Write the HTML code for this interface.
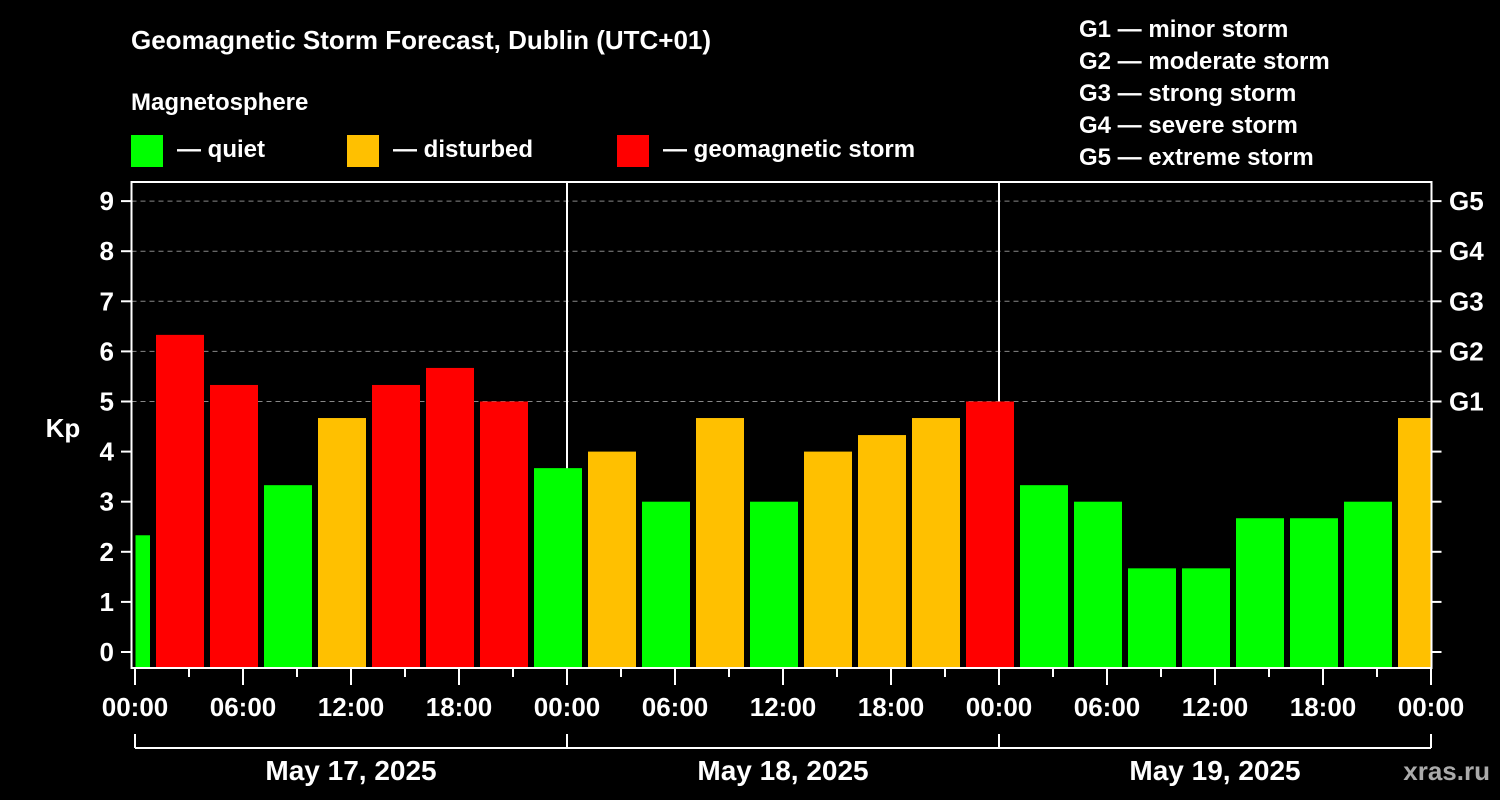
<!DOCTYPE html>
<html><head><meta charset="utf-8"><style>
body{margin:0;background:#000;}
svg{display:block;font-family:"Liberation Sans",Arial,sans-serif;font-weight:bold;}
</style></head><body>
<svg id="chart" width="1500" height="800" viewBox="0 0 1500 800">
<rect width="1500" height="800" fill="#000"/>
<text x="131" y="49" fill="#fff" font-size="26">Geomagnetic Storm Forecast, Dublin (UTC+01)</text>
<text x="131" y="110" fill="#fff" font-size="24">Magnetosphere</text>
<g><rect x="131" y="135" width="32" height="32" fill="#00ff00"/><text x="177" y="157" fill="#fff" font-size="24">— quiet</text></g>
<g><rect x="347" y="135" width="32" height="32" fill="#ffc000"/><text x="393" y="157" fill="#fff" font-size="24">— disturbed</text></g>
<g><rect x="617" y="135" width="32" height="32" fill="#ff0000"/><text x="663" y="157" fill="#fff" font-size="24">— geomagnetic storm</text></g>
<g fill="#fff" font-size="24">
<text x="1079" y="37">G1 — minor storm</text>
<text x="1079" y="69">G2 — moderate storm</text>
<text x="1079" y="101">G3 — strong storm</text>
<text x="1079" y="133">G4 — severe storm</text>
<text x="1079" y="165">G5 — extreme storm</text>
</g>
<g id="grid"></g>
<g id="bars"></g>
<g id="axes"></g>
<text x="63" y="437" fill="#fff" font-size="26" text-anchor="middle">Kp</text>
<text x="1490" y="780" fill="#aaa" font-size="26" text-anchor="end">xras.ru</text>
</svg>
<script>
const kpValues=[2.33,6.33,5.33,3.33,4.67,5.33,5.67,5.0,3.67,4.0,3.0,4.67,3.0,4.0,4.33,4.67,5.0,3.33,3.0,1.67,1.67,2.67,2.67,3.0,4.67];
const yTicks=[0,1,2,3,4,5,6,7,8,9];
const gLabels=["G1","G2","G3","G4","G5"];
const xTickLabels=["00:00","06:00","12:00","18:00","00:00","06:00","12:00","18:00","00:00","06:00","12:00","18:00","00:00"];
const dayLabels=["May 17, 2025","May 18, 2025","May 19, 2025"];
const NS="http://www.w3.org/2000/svg";
const L=131.5,R=1431.5,T=182,B=668,X0=135,PXH=18;
const y=v=>652-v*50.1;
const xh=h=>X0+h*PXH; // hours from May 17 00:00 local
function mk(tag,attrs,parent){const e=document.createElementNS(NS,tag);for(const k in attrs)e.setAttribute(k,attrs[k]);parent.appendChild(e);return e;}
const grid=document.getElementById('grid'),bars=document.getElementById('bars'),axes=document.getElementById('axes');
for(let v=5;v<=9;v++){
 const l=mk('line',{x1:L,x2:R,y1:y(v),y2:y(v),stroke:'#888','stroke-dasharray':'5,4','stroke-width':1},grid);
 
 
}
// day separators
[1,2].forEach(d=>{const l=mk('line',{x1:xh(24*d),x2:xh(24*d),y1:T,y2:B,stroke:'#fff','stroke-width':2},grid);
 
 });
kpValues.forEach((v,i)=>{
 const c=xh(-0.5+3*i);
 let x1=Math.max(c-24,L+4),x2=Math.min(c+24,R-1);
 const col=v>=5?'#ff0000':(v>=4?'#ffc000':'#00ff00');
 const r=mk('rect',{x:x1,y:y(v),width:x2-x1,height:B-y(v),fill:col},bars);
 
 
});
const frame=mk('rect',{x:L,y:T,width:R-L,height:B-T,fill:'none',stroke:'#fff','stroke-width':2},axes);


yTicks.forEach(v=>{
 mk('line',{x1:121,x2:L,y1:y(v),y2:y(v),stroke:'#fff','stroke-width':2},axes);
 mk('line',{x1:R,x2:R+10,y1:y(v),y2:y(v),stroke:'#fff','stroke-width':2},axes);
 const t=mk('text',{x:114,y:y(v)+9,fill:'#fff','font-size':26,'text-anchor':'end'},axes);
 t.textContent=v;
 
 
});
gLabels.forEach((g,i)=>{
 const t=mk('text',{x:1449,y:y(5+i)+9,fill:'#fff','font-size':26},axes);
 t.textContent=g;
 
 
});
for(let h=0;h<=72;h+=3){
 mk('line',{x1:xh(h),x2:xh(h),y1:B,y2:h%6==0?685:677,stroke:'#fff','stroke-width':2},axes);
}
xTickLabels.forEach((s,i)=>{
 const t=mk('text',{x:xh(6*i),y:716,fill:'#fff','font-size':26,'text-anchor':'middle'},axes);
 t.textContent=s;
 
 
});
mk('line',{x1:xh(0),x2:xh(72),y1:748,y2:748,stroke:'#fff','stroke-width':2},axes);
[0,1,2,3].forEach(d=>mk('line',{x1:xh(24*d),x2:xh(24*d),y1:734,y2:748,stroke:'#fff','stroke-width':2},axes));
dayLabels.forEach((s,i)=>{
 const t=mk('text',{x:xh(24*i+12),y:780,fill:'#fff','font-size':28,'text-anchor':'middle'},axes);
 t.textContent=s;
 
 
});
</script>
</body></html>
